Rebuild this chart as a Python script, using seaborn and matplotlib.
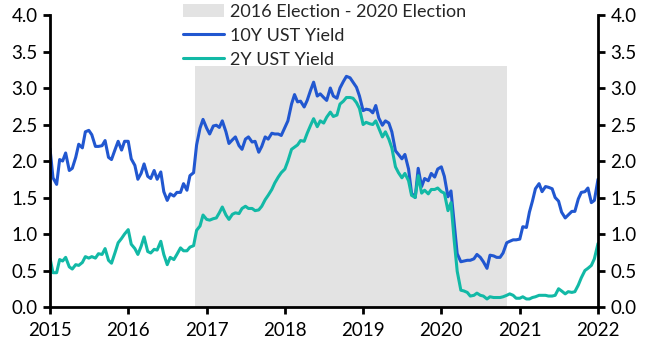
import numpy as np
import pandas as pd
import seaborn as sns
from matplotlib import pyplot as plt
from matplotlib.patches import Patch
from matplotlib.lines import Line2D

# semi-monthly readings (1st and 15th of each month), 2015-01-01 .. 2022-01-01
dates = pd.date_range('2015-01-01', '2022-01-01', freq='SMS')

ust10 = [
    # 2015
    2.17, 1.77, 1.68, 2.02, 2.00, 2.11, 1.87, 1.90, 2.05, 2.23, 2.18, 2.40,
    2.42, 2.36, 2.20, 2.20, 2.21, 2.28, 2.05, 2.02, 2.16, 2.27, 2.15, 2.27,
    # 2016
    2.27, 2.03, 1.94, 1.75, 1.83, 1.96, 1.79, 1.76, 1.87, 1.75, 1.85, 1.58,
    1.46, 1.55, 1.52, 1.57, 1.57, 1.69, 1.60, 1.80, 1.84, 2.22, 2.45, 2.57,
    # 2017
    2.45, 2.37, 2.48, 2.49, 2.46, 2.55, 2.40, 2.24, 2.29, 2.33, 2.21, 2.16,
    2.30, 2.33, 2.26, 2.27, 2.12, 2.20, 2.33, 2.30, 2.38, 2.37, 2.37, 2.35,
    # 2018
    2.46, 2.55, 2.78, 2.91, 2.81, 2.82, 2.74, 2.83, 2.97, 3.08, 2.89, 2.92,
    2.87, 2.83, 3.00, 2.89, 2.86, 3.00, 3.09, 3.16, 3.14, 3.08, 3.01, 2.89,
    # 2019
    2.69, 2.71, 2.70, 2.66, 2.76, 2.59, 2.49, 2.55, 2.52, 2.40, 2.14, 2.09,
    2.03, 2.09, 1.89, 1.56, 1.50, 1.90, 1.65, 1.76, 1.73, 1.83, 1.78, 1.89,
    # 2020
    1.92, 1.79, 1.51, 1.59, 1.15, 0.73, 0.62, 0.63, 0.64, 0.64, 0.66, 0.72,
    0.68, 0.62, 0.53, 0.71, 0.70, 0.68, 0.68, 0.74, 0.88, 0.90, 0.92, 0.92,
    # 2021
    0.93, 1.10, 1.09, 1.30, 1.45, 1.62, 1.69, 1.58, 1.65, 1.64, 1.62, 1.50,
    1.45, 1.30, 1.22, 1.26, 1.31, 1.31, 1.48, 1.57, 1.58, 1.63, 1.43, 1.46,
    # 2022
    1.75,
]

ust2 = [
    # 2015
    0.67, 0.47, 0.47, 0.65, 0.63, 0.68, 0.55, 0.52, 0.58, 0.57, 0.61, 0.69,
    0.67, 0.69, 0.67, 0.73, 0.72, 0.80, 0.64, 0.60, 0.75, 0.88, 0.94, 1.00,
    # 2016
    1.06, 0.86, 0.80, 0.72, 0.83, 0.96, 0.76, 0.74, 0.79, 0.78, 0.90, 0.72,
    0.58, 0.68, 0.65, 0.72, 0.81, 0.77, 0.77, 0.82, 0.84, 1.05, 1.11, 1.26,
    # 2017
    1.20, 1.19, 1.21, 1.22, 1.29, 1.37, 1.26, 1.20, 1.27, 1.29, 1.28, 1.35,
    1.38, 1.35, 1.35, 1.32, 1.33, 1.38, 1.47, 1.53, 1.61, 1.70, 1.78, 1.84,
    # 2018
    1.89, 2.00, 2.16, 2.19, 2.22, 2.28, 2.27, 2.38, 2.49, 2.58, 2.47, 2.55,
    2.52, 2.60, 2.67, 2.61, 2.63, 2.78, 2.82, 2.87, 2.87, 2.86, 2.80, 2.72,
    # 2019
    2.50, 2.53, 2.51, 2.50, 2.55, 2.45, 2.33, 2.40, 2.30, 2.18, 1.92, 1.84,
    1.77, 1.83, 1.73, 1.53, 1.50, 1.80, 1.56, 1.60, 1.55, 1.61, 1.61, 1.63,
    # 2020
    1.58, 1.56, 1.32, 1.43, 0.91, 0.49, 0.23, 0.22, 0.20, 0.15, 0.16, 0.19,
    0.16, 0.15, 0.11, 0.14, 0.13, 0.13, 0.13, 0.14, 0.16, 0.18, 0.16, 0.12,
    # 2021
    0.12, 0.14, 0.11, 0.11, 0.13, 0.14, 0.16, 0.16, 0.16, 0.15, 0.15, 0.16,
    0.25, 0.22, 0.18, 0.21, 0.20, 0.21, 0.30, 0.40, 0.50, 0.53, 0.57, 0.66,
    # 2022
    0.87,
]

shade_start = pd.Timestamp('2016-11-08')
shade_end = pd.Timestamp('2020-11-03')
shade_top = 3.3

labels = ['10Y UST Yield', '2Y UST Yield']
colors = ['#2157d0', '#12b9a6']


def main():
    df = pd.DataFrame({'date': dates, labels[0]: ust10, labels[1]: ust2})
    df = df.melt(id_vars='date', var_name='series', value_name='yield')

    sns.set_style('ticks')
    plt.rcParams['font.family'] = ['Lato', 'DejaVu Sans']

    fig = plt.figure(figsize=(6.51, 3.55), dpi=100)
    ax = fig.add_axes([0.0768, 0.1352, 0.8418, 0.8225])

    ax.fill_between([shade_start, shade_end], 0, shade_top, color='#e3e3e3', lw=0, zorder=0)
    sns.lineplot(data=df, x='date', y='yield', hue='series', palette=colors,
                 linewidth=2.2, legend=False, ax=ax, zorder=2)

    ax.set_xlim(pd.Timestamp('2015-01-01'), pd.Timestamp('2022-01-01'))
    ax.set_ylim(0, 4)
    ax.set_yticks(np.arange(0, 4.01, 0.5))
    ax.set_xticks(pd.to_datetime([f'{y}-01-01' for y in range(2015, 2023)]))
    ax.set_xticklabels([str(y) for y in range(2015, 2023)])
    ax.set_xlabel('')
    ax.set_ylabel('')

    ax2 = ax.twinx()
    ax2.set_ylim(0, 4)
    ax2.set_yticks(np.arange(0, 4.01, 0.5))

    for a in (ax, ax2):
        for s in a.spines.values():
            s.set_linewidth(2.0)
            s.set_color('black')
        a.spines['top'].set_visible(False)
        a.tick_params(direction='out', length=5, width=2.0, labelsize=13.5,
                      colors='black', pad=4)
        a.yaxis.set_major_formatter(plt.FormatStrFormatter('%.1f'))
    ax.tick_params(axis='x', pad=6)
    ax.spines['right'].set_visible(False)
    ax2.spines['left'].set_visible(False)
    ax2.spines['bottom'].set_visible(False)

    handles = [
        Patch(facecolor='#e3e3e3', edgecolor='none'),
        Line2D([], [], color=colors[0], lw=2.2),
        Line2D([], [], color=colors[1], lw=2.2),
    ]
    fig.legend(handles, ['2016 Election - 2020 Election'] + labels,
               loc='upper left', bbox_to_anchor=(0.281, 0.99), frameon=False,
               fontsize=13, handlelength=2.3, handletextpad=0.3,
               labelspacing=0.45, borderpad=0.0, borderaxespad=0)

    fig.savefig('out.png', dpi=100)


if __name__ == '__main__':
    main()
